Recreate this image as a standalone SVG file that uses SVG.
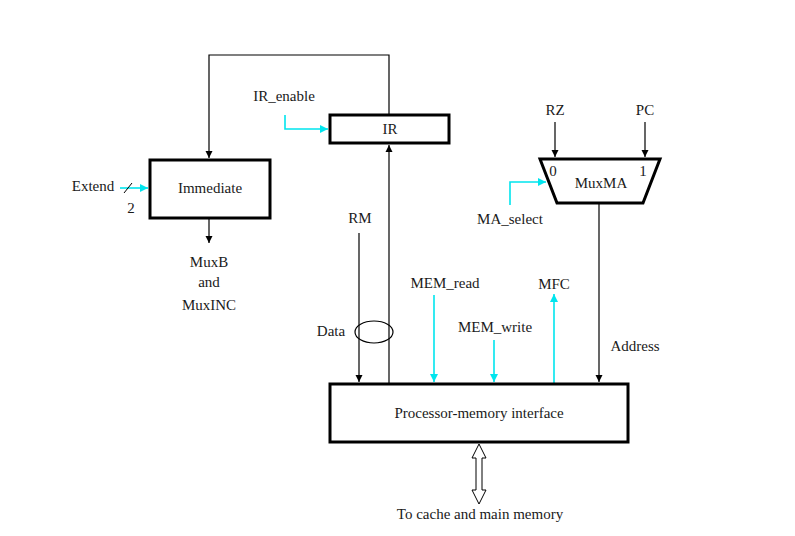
<svg xmlns="http://www.w3.org/2000/svg" width="795" height="536" viewBox="0 0 795 536">
<style>
text{font-family:"Liberation Serif","DejaVu Serif","Times New Roman",serif;font-size:15px;fill:#1a1a1a}
.box{fill:#fff;stroke:#000;stroke-width:3}
.w{fill:none;stroke:#000;stroke-width:1.2}
.c{fill:none;stroke:#00e5ee;stroke-width:1.6}
</style>
<defs>
<marker id="ak" viewBox="0 0 10 10" refX="10" refY="5" markerWidth="7" markerHeight="8" markerUnits="userSpaceOnUse" orient="auto"><path d="M0,0L10,5L0,10z" fill="#000"/></marker>
<marker id="ac" viewBox="0 0 10 10" refX="10" refY="5" markerWidth="8" markerHeight="8" markerUnits="userSpaceOnUse" orient="auto"><path d="M0,0L10,5L0,10z" fill="#00e5ee"/></marker>
</defs>
<rect width="795" height="536" fill="#fff"/>
<g id="connectors">
<path class="w" d="M389,115V55H209V158" marker-end="url(#ak)"/>
<path class="w" d="M209,219V243" marker-end="url(#ak)"/>
<path class="c" d="M120,188H148" marker-end="url(#ac)"/>
<line x1="124" y1="193" x2="132" y2="183" stroke="#000" stroke-width="1"/>
<path class="c" d="M285,115V129H328" marker-end="url(#ac)"/>
<path class="w" d="M555,122V157" marker-end="url(#ak)"/>
<path class="w" d="M645,122V157" marker-end="url(#ak)"/>
<path class="c" d="M510,205V182H546" marker-end="url(#ac)"/>
<path class="w" d="M599,204V382" marker-end="url(#ak)"/>
<path class="w" d="M359,233V382" marker-end="url(#ak)"/>
<path class="w" d="M389,383V145" marker-end="url(#ak)"/>
<ellipse cx="374" cy="332" rx="19" ry="11" fill="none" stroke="#000" stroke-width="1.2"/>
<path class="c" d="M434,295V382" marker-end="url(#ac)"/>
<path class="c" d="M494,340V382" marker-end="url(#ac)"/>
<path class="c" d="M554,383V294" marker-end="url(#ac)"/>
<path d="M479,444L486,458H482V490H486L479,504L472,490H476V458H472Z" fill="#fff" stroke="#000" stroke-width="1"/>
</g>
<g id="immediate">
<rect class="box" x="150" y="160" width="120" height="58"/>
<text x="210" y="193" text-anchor="middle">Immediate</text>
</g>
<g id="ir">
<rect class="box" x="330" y="115" width="119" height="28"/>
<text x="390" y="134" text-anchor="middle">IR</text>
</g>
<g id="muxma">
<path class="box" d="M540,159H660L643,203H557Z"/>
<text x="601" y="188" text-anchor="middle">MuxMA</text>
<text x="553" y="176" text-anchor="middle">0</text>
<text x="643" y="176" text-anchor="middle">1</text>
</g>
<g id="pmi">
<rect class="box" x="330" y="384" width="298" height="58"/>
<text x="479" y="418" text-anchor="middle">Processor-memory interface</text>
</g>
<g id="labels">
<text x="93" y="191" text-anchor="middle">Extend</text>
<text x="131" y="213" text-anchor="middle">2</text>
<text x="284" y="101" text-anchor="middle">IR_enable</text>
<text x="209" y="267" text-anchor="middle">MuxB</text>
<text x="209" y="287" text-anchor="middle">and</text>
<text x="209" y="310" text-anchor="middle">MuxINC</text>
<text x="555" y="115" text-anchor="middle">RZ</text>
<text x="645" y="115" text-anchor="middle">PC</text>
<text x="510" y="224" text-anchor="middle">MA_select</text>
<text x="360" y="223" text-anchor="middle">RM</text>
<text x="331" y="336" text-anchor="middle">Data</text>
<text x="445" y="288" text-anchor="middle">MEM_read</text>
<text x="495" y="332" text-anchor="middle">MEM_write</text>
<text x="554" y="289" text-anchor="middle">MFC</text>
<text x="635" y="351" text-anchor="middle">Address</text>
<text x="480" y="519" text-anchor="middle">To cache and main memory</text>
</g>
</svg>
